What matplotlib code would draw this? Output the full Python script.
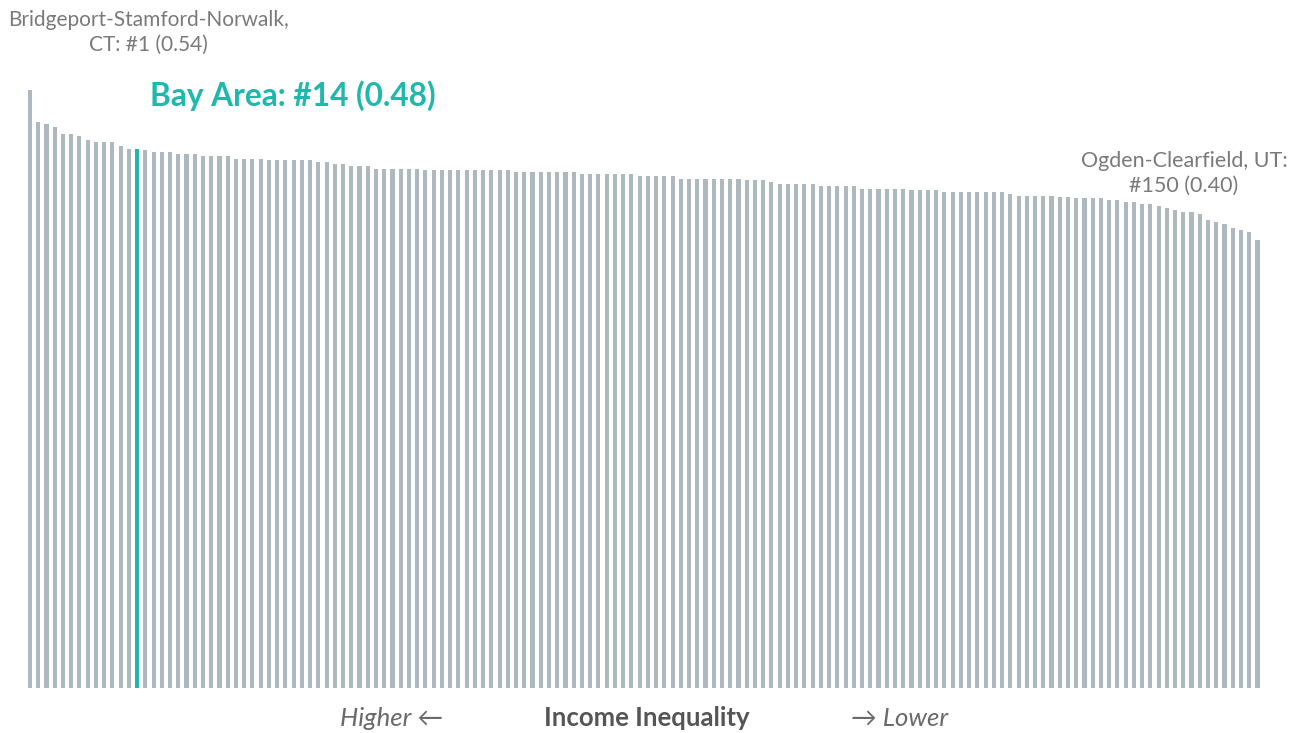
import numpy as np
import matplotlib
matplotlib.use("Agg")
import matplotlib.pyplot as plt

plt.rcParams['font.family'] = ['Lato', 'DejaVu Sans']

# income inequality (Gini) of 150 metro areas, ranked high -> low
gini = [
    0.539, 0.510, 0.508, 0.505, 0.499, 0.499, 0.497, 0.494, 0.492, 0.492,
    0.492, 0.488, 0.486, 0.486, 0.485, 0.483, 0.483, 0.483, 0.481, 0.481,
    0.481, 0.479, 0.479, 0.479, 0.479, 0.477, 0.477, 0.477, 0.477, 0.476,
    0.476, 0.476, 0.476, 0.476, 0.476, 0.474, 0.474, 0.472, 0.472, 0.470,
    0.470, 0.470, 0.468, 0.468, 0.468, 0.468, 0.468, 0.468, 0.467, 0.467,
    0.467, 0.467, 0.467, 0.467, 0.467, 0.467, 0.467, 0.467, 0.467, 0.465,
    0.465, 0.465, 0.465, 0.465, 0.465, 0.465, 0.465, 0.463, 0.463, 0.463,
    0.463, 0.463, 0.463, 0.463, 0.461, 0.461, 0.461, 0.461, 0.461, 0.459,
    0.459, 0.459, 0.459, 0.459, 0.459, 0.459, 0.459, 0.458, 0.458, 0.458,
    0.456, 0.454, 0.454, 0.454, 0.454, 0.454, 0.452, 0.452, 0.452, 0.452,
    0.452, 0.450, 0.450, 0.450, 0.450, 0.450, 0.450, 0.449, 0.449, 0.449,
    0.449, 0.447, 0.447, 0.447, 0.447, 0.447, 0.447, 0.447, 0.447, 0.445,
    0.443, 0.443, 0.443, 0.443, 0.443, 0.442, 0.442, 0.441, 0.441, 0.441,
    0.441, 0.440, 0.440, 0.438, 0.438, 0.436, 0.436, 0.434, 0.432, 0.431,
    0.429, 0.429, 0.427, 0.422, 0.420, 0.418, 0.414, 0.413, 0.411, 0.404,
]
bay_rank = 14
top_label = "Bridgeport-Stamford-Norwalk,\nCT: #1 (0.54)"
bay_label = "Bay Area: #14 (0.48)"
low_label = "Ogden-Clearfield, UT:\n#150 (0.40)"

gray = '#adb8bf'
teal = '#1fb8ad'

fig = plt.figure(figsize=(13.01, 7.33), dpi=100)
ax = fig.add_axes([0, 0, 1, 1])

x = np.arange(len(gini))
colors = [teal if i == bay_rank - 1 else gray for i in x]
ax.bar(x, gini, width=0.5, color=colors)

# pixel mapping: bar centres 30 + 8.238*i, baseline 45px from bottom
step = 8.238
ax.set_xlim(-30 / step, (1301 - 30) / step)
ax.set_ylim(-45 / 1110, (733 - 45) / 1110)
ax.axis('off')

fig.text(148 / 1301, 1 - 32 / 733, top_label, ha='center', va='center',
         fontsize=15, color='#7a7a7a', linespacing=1.3)
fig.text(150 / 1301, 1 - 96 / 733, bay_label, ha='left', va='center',
         fontsize=22.8, color=teal, fontweight='bold')
fig.text(1184 / 1301, 1 - 173 / 733, low_label, ha='center', va='center',
         fontsize=15.5, color='#7a7a7a', linespacing=1.3)

fig.text(443 / 1301, 1 - 718 / 733, "Higher \u2190", ha='right', va='center',
         fontsize=18.5, color='#6a6a6a', style='italic')
fig.text(647 / 1301, 1 - 718 / 733, "Income Inequality", ha='center', va='center',
         fontsize=18.5, color='#555555', fontweight='bold')
fig.text(851 / 1301, 1 - 718 / 733, "\u2192 Lower", ha='left', va='center',
         fontsize=18.5, color='#6a6a6a', style='italic')

fig.savefig('out.png', dpi=100)
